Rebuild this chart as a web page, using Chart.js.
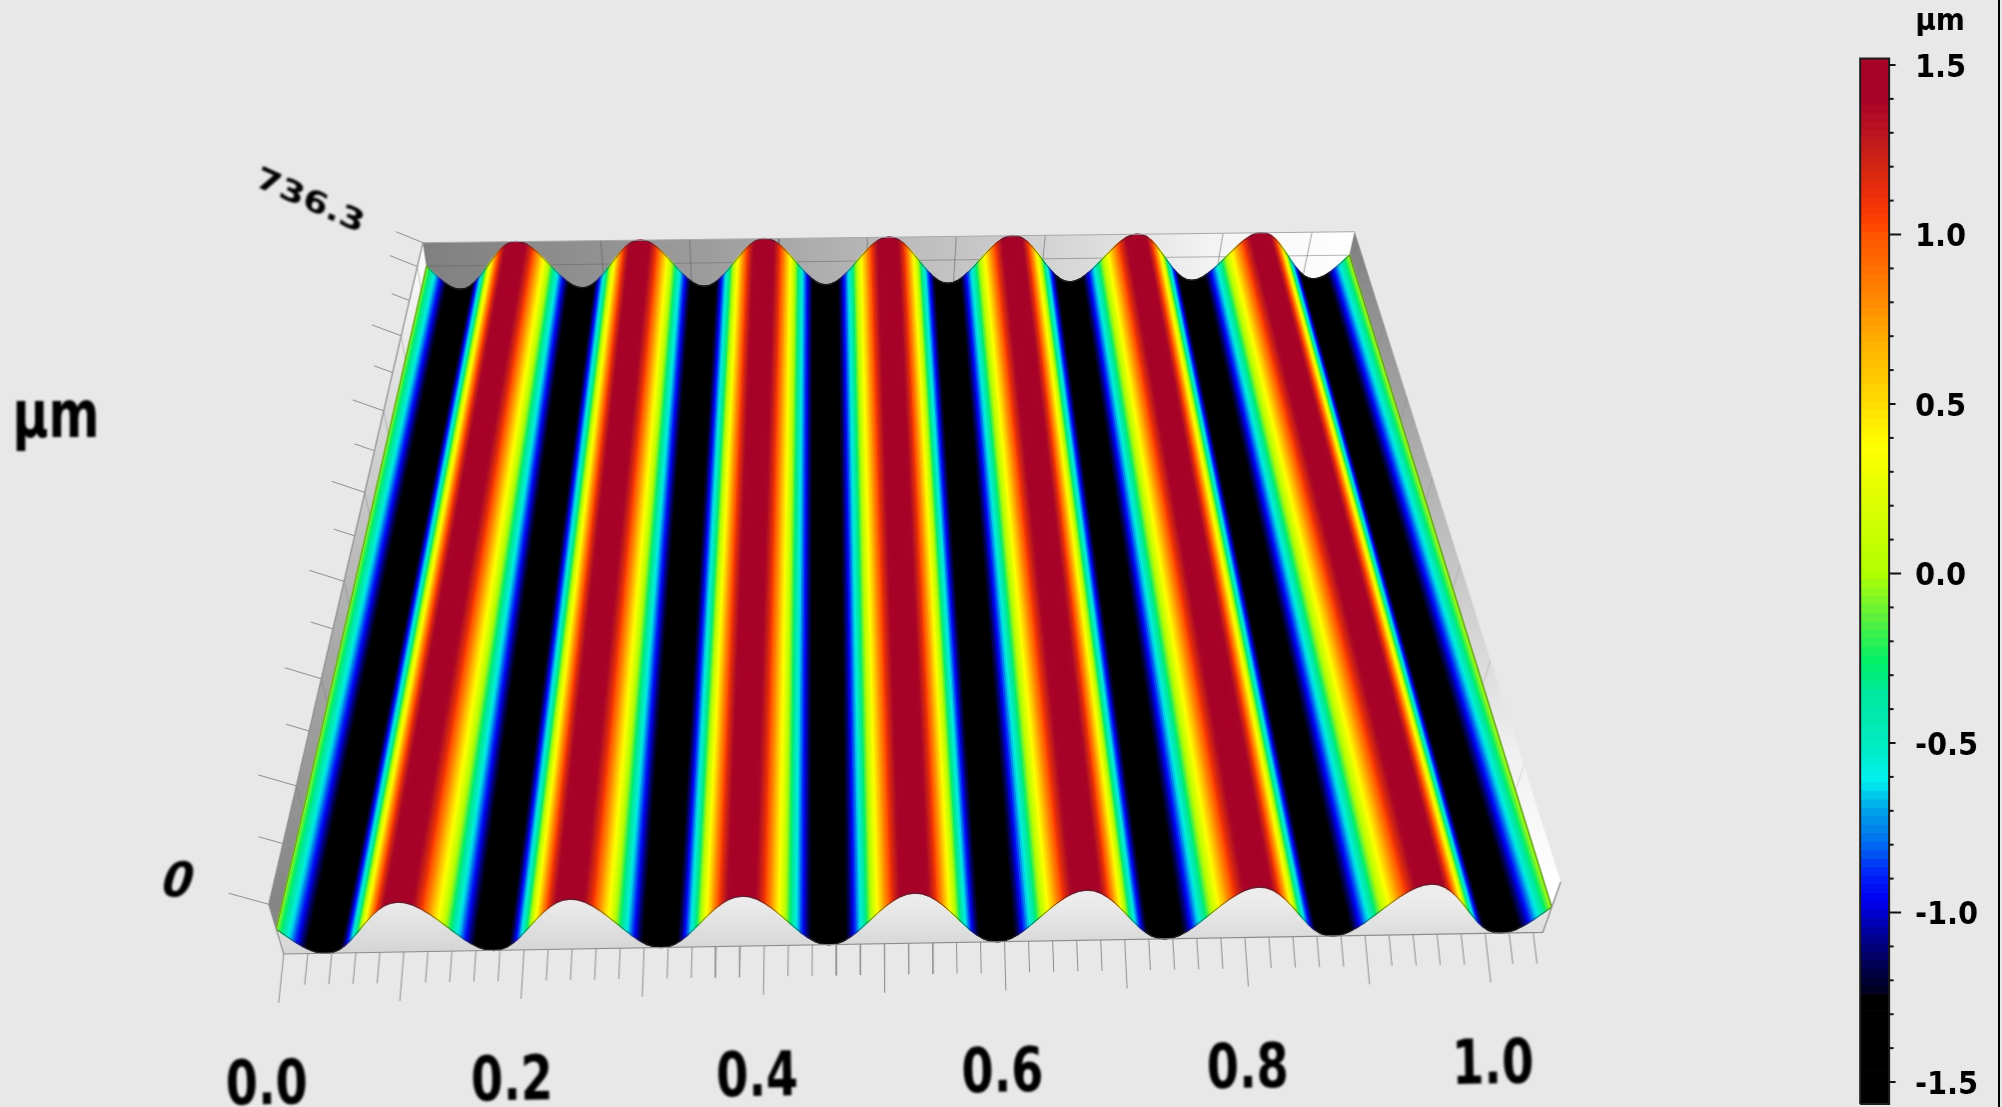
<!DOCTYPE html>
<html>
<head>
<meta charset="utf-8">
<title>Surface profile</title>
<script src="https://cdn.jsdelivr.net/npm/chart.js@4/dist/chart.umd.min.js"></script>
<style>
    html, body { margin: 0; padding: 0; background: #e8e8e8; overflow: hidden; }
    canvas { display: block; border-right: 2px solid #000; }
</style>
</head>
<body>
<canvas id="surface" width="2000" height="1107"></canvas>
<script>
// height of the surface along x (µm), one row per ridge
const profileHeights = [
    0.00, -0.41, -0.80, -1.13, -1.39, -1.55,
    -1.60, -1.55, -1.39, -1.13, -0.80, -0.41, 0.00, 0.41, 0.80, 1.13, 1.39, 1.55, 1.60, 1.55, 1.39, 1.13, 0.80, 0.41, 0.00, -0.41, -0.80, -1.13, -1.39, -1.55,
    -1.60, -1.55, -1.39, -1.13, -0.80, -0.41, 0.00, 0.41, 0.80, 1.13, 1.39, 1.55, 1.60, 1.55, 1.39, 1.13, 0.80, 0.41, 0.00, -0.41, -0.80, -1.13, -1.39, -1.55,
    -1.60, -1.55, -1.39, -1.13, -0.80, -0.41, 0.00, 0.41, 0.80, 1.13, 1.39, 1.55, 1.60, 1.55, 1.39, 1.13, 0.80, 0.41, 0.00, -0.41, -0.80, -1.13, -1.39, -1.55,
    -1.60, -1.55, -1.39, -1.13, -0.80, -0.41, 0.00, 0.41, 0.80, 1.13, 1.39, 1.55, 1.60, 1.55, 1.39, 1.13, 0.80, 0.41, 0.00, -0.41, -0.80, -1.13, -1.39, -1.55,
    -1.60, -1.55, -1.39, -1.13, -0.80, -0.41, 0.00, 0.41, 0.80, 1.13, 1.39, 1.55, 1.60, 1.55, 1.39, 1.13, 0.80, 0.41, 0.00, -0.41, -0.80, -1.13, -1.39, -1.55,
    -1.60, -1.55, -1.39, -1.13, -0.80, -0.41, 0.00, 0.41, 0.80, 1.13, 1.39, 1.55, 1.60, 1.55, 1.39, 1.13, 0.80, 0.41, 0.00, -0.41, -0.80, -1.13, -1.39, -1.55,
    -1.60, -1.55, -1.39, -1.13, -0.80, -0.41, 0.00, 0.41, 0.80, 1.13, 1.39, 1.55, 1.60, 1.55, 1.39, 1.13, 0.80, 0.41, 0.00, -0.41, -0.80, -1.13, -1.39, -1.55,
    -1.60, -1.55, -1.39, -1.13, -0.80, -0.41, 0.00
];
const sampleStep = 0.005822; // x distance between two profile samples

const xMajorTicks = [0.0, 0.1, 0.2, 0.3, 0.4, 0.5, 0.6, 0.7, 0.8, 0.9, 1.0];
const xMinorTicks = [0.02, 0.04, 0.06, 0.08, 0.12, 0.14, 0.16, 0.18, 0.22, 0.24, 0.26, 0.28, 0.32, 0.34, 0.36, 0.38, 0.42, 0.44, 0.46, 0.48, 0.52, 0.54, 0.56, 0.58, 0.62, 0.64, 0.66, 0.68, 0.72, 0.74, 0.76, 0.78, 0.82, 0.84, 0.86, 0.88, 0.92, 0.94, 0.96, 0.98, 1.02, 1.04];
const xTickLabels = ['0.0', '0.2', '0.4', '0.6', '0.8', '1.0'];
const xLabelValues = [0.0, 0.2, 0.4, 0.6, 0.8, 1.0];
const yMajorTicks = [0, 100, 200, 300, 400, 500, 600, 700, 736.3];
const yMinorTicks = [50, 150, 250, 350, 450, 550, 650];

// colour map of the bar on the right: height -> colour
const cmapValues = [-1.8, -1.245, -1.24, -1.18, -1.08, -1.0, -0.96, -0.89, -0.79, -0.69, -0.61, -0.5, -0.355, -0.26, -0.14, -0.06, 0.0, 0.3, 0.38, 0.5, 0.64, 0.7, 0.8, 0.9, 1.0, 1.04, 1.1, 1.2, 1.3, 1.397, 1.8];
const cmapColors = ['#000000', '#000000', '#000018', '#000040', '#00008a', '#0000d0', '#0000f0', '#0020f8', '#0070f0', '#00a8e8', '#00f0f0', '#00ecc0', '#00e8a0', '#00f068', '#55f040', '#88f820', '#b0ff00', '#f0ff00', '#ffff00', '#ffdd00', '#ffbb00', '#ffaa00', '#ff8c00', '#ff7000', '#ff5500', '#ff4000', '#f03208', '#d22612', '#bb1520', '#a80428', '#a50028'];
const cbLabelTicks = [-1.5, -1.0, -0.5, 0.0, 0.5, 1.0, 1.5];
const cbMajorTicks = [-1.0, 0.0, 1.0];
const cbMidTicks = [-1.5, -0.5, 0.5, 1.5];
const cbMinorTicks = [-1.4, -1.3, -1.2, -1.1, -0.9, -0.8, -0.7, -0.6, -0.4, -0.3, -0.2, -0.1, 0.1, 0.2, 0.3, 0.4, 0.6, 0.7, 0.8, 0.9, 1.1, 1.2, 1.3, 1.4];

const xMax = 1.048, yMax = 736.3, hMin = -1.6, hMax = 1.6;
const cbLow = -1.565, cbHigh = 1.519, cbBand = 0.025;

// where the box sits in the picture
const topPlane = { fl: [269, 904.3], fr: [1562.3, 881.7], bl: [423.3, 242.7], br: [1356, 231.7] };
const botPlane = { fl: [284, 954], fr: [1544.3, 932.3], bl: [430.5, 289.8], br: [1345.5, 278.6] };
const depthRatio = 1.387;

const FONT = '"DejaVu Sans Condensed", "DejaVu Sans", sans-serif';

function lerp(a, b, t) { return a + (b - a) * t; }

function planePoint(plane, u, v) {
    const t = v * depthRatio / ((1 - v) + v * depthRatio);
    const lx = lerp(plane.fl[0], plane.bl[0], t), ly = lerp(plane.fl[1], plane.bl[1], t);
    const rx = lerp(plane.fr[0], plane.br[0], t), ry = lerp(plane.fr[1], plane.br[1], t);
    return [lerp(lx, rx, u), lerp(ly, ry, u)];
}

function project(x, y, h) {
    const u = x / xMax, v = y / yMax, z = (h - hMin) / (hMax - hMin);
    const a = planePoint(botPlane, u, v), b = planePoint(topPlane, u, v);
    return { x: lerp(a[0], b[0], z), y: lerp(a[1], b[1], z) };
}

function hexToRgb(c) {
    return [parseInt(c.slice(1, 3), 16), parseInt(c.slice(3, 5), 16), parseInt(c.slice(5, 7), 16)];
}

function heightColor(h) {
    let i = 0;
    while (i < cmapValues.length - 2 && h > cmapValues[i + 1]) i++;
    const t = Math.min(1, Math.max(0, (h - cmapValues[i]) / (cmapValues[i + 1] - cmapValues[i])));
    const a = hexToRgb(cmapColors[i]), b = hexToRgb(cmapColors[i + 1]);
    return 'rgb(' + Math.round(lerp(a[0], b[0], t)) + ',' + Math.round(lerp(a[1], b[1], t)) + ',' + Math.round(lerp(a[2], b[2], t)) + ')';
}

const canvas = document.getElementById('surface');
const ctx = canvas.getContext('2d');

function gradient(x0, y0, x1, y1, stops) {
    const g = ctx.createLinearGradient(x0, y0, x1, y1);
    stops.forEach(s => g.addColorStop(s[0], s[1]));
    return g;
}

// paint order: first pushed is at the back
const layers = [];

function addPolygon(points, color, borderColor, borderWidth) {
    layers.push({
        data: points.concat([points[0]]),
        fill: 'shape',
        backgroundColor: color,
        borderColor: borderColor || 'rgba(0,0,0,0)',
        borderWidth: borderColor ? (borderWidth || 1) : 0,
        pointRadius: 0,
        tension: 0
    });
}

function addLine(points, color, width, axisId) {
    const ds = { data: points, fill: false, borderColor: color, borderWidth: width || 1, pointRadius: 0, tension: 0 };
    if (axisId) ds.yAxisID = axisId;
    layers.push(ds);
}

const lastX = (profileHeights.length - 1) * sampleStep;
const h0 = profileHeights[0], hEnd = profileHeights[profileHeights.length - 1];

// back wall and its grid
addPolygon([project(0, yMax, hMax), project(xMax, yMax, hMax), project(xMax, yMax, hMin), project(0, yMax, hMin)],
    gradient(423, 0, 1356, 0, [[0, '#808080'], [0.3, '#9c9c9c'], [0.65, '#cfcfcf'], [0.85, '#f4f4f4'], [1, '#ffffff']]));
xMajorTicks.forEach(x => addLine([project(x, yMax, hMax), project(x, yMax, hMin)], 'rgba(90,90,90,0.55)', 1));
addLine([project(0, yMax, 0), project(xMax, yMax, 0)], 'rgba(90,90,90,0.45)', 1);

// side walls
addPolygon([project(0, yMax, hMax), project(0, 0, hMax), project(0, 0, hMin), project(0, 0, h0), project(0, yMax, h0)],
    gradient(0, 243, 0, 930, [[0, '#ffffff'], [0.3, '#d2d2d2'], [0.58, '#aaaaaa'], [0.96, '#858585'], [1, '#8a8a8a']]));
addPolygon([project(xMax, yMax, hMax), project(xMax, 0, hMax), project(xMax, 0, hMin), project(lastX, 0, hEnd), project(lastX, yMax, hEnd)],
    gradient(0, 232, 0, 880, [[0, '#808080'], [0.4, '#b4b4b4'], [0.8, '#f0f0f0'], [1, '#ffffff']]));
yMajorTicks.forEach(y => {
    addLine([project(0, y, hMax), project(0, y, h0)], 'rgba(110,110,110,0.35)', 1);
    addLine([project(xMax, y, hMax), project(xMax, y, hEnd)], 'rgba(110,110,110,0.25)', 1);
});

// front wall under the profile
const frontProfile = profileHeights.map((h, i) => project(i * sampleStep, 0, h));
addPolygon(frontProfile.concat([project(xMax, 0, hMin), project(0, 0, hMin)]),
    gradient(0, 900, 0, 954, [[0, '#ececec'], [1, '#d4d4d4']]));

// the surface itself, thin strips coloured by height
const perSample = 4;
for (let i = 0; i < profileHeights.length - 1; i++) {
    for (let s = 0; s < perSample; s++) {
        const h1 = lerp(profileHeights[i], profileHeights[i + 1], s / perSample);
        const h2 = lerp(profileHeights[i], profileHeights[i + 1], (s + 1) / perSample);
        const x1 = (i + s / perSample) * sampleStep, x2 = (i + (s + 1) / perSample) * sampleStep;
        const c = heightColor((h1 + h2) / 2);
        addPolygon([project(x1, 0, h1), project(x2, 0, h2), project(x2, yMax, h2), project(x1, yMax, h1)], c, c, 1.5);
    }
}

// outlines of the profile and the box
const backProfile = profileHeights.map((h, i) => project(i * sampleStep, yMax, h));
addLine(frontProfile, 'rgba(50,50,50,0.75)', 1);
addLine(backProfile, 'rgba(50,50,50,0.75)', 1);
addLine([project(0, yMax, h0), project(0, 0, h0)], 'rgba(60,60,30,0.6)', 1);
addLine([project(lastX, yMax, hEnd), project(lastX, 0, hEnd)], 'rgba(60,60,30,0.7)', 1);
addLine([project(0, yMax, hMax), project(0, 0, hMax), project(0, 0, hMin), project(xMax, 0, hMin), project(xMax, 0, hMax)], '#8c8c8c', 1.2);
addLine([project(0, yMax, hMax), project(xMax, yMax, hMax)], '#a8a8a8', 1);

// x axis ticks below the front edge
function frontTick(x, len) {
    const p = project(x, 0, hMin);
    const u = x / xMax;
    return [p, { x: p.x + lerp(-5, 6, u) * len / 48, y: p.y + len }];
}
xMajorTicks.forEach(x => addLine(frontTick(x, 49), '#8e8e8e', 1));
xMinorTicks.forEach(x => addLine(frontTick(x, 31), '#8e8e8e', 1));

// y axis ticks left of the box
function sideTick(y, scale) {
    const p = project(0, y, hMax);
    const v = y / yMax;
    return [{ x: p.x + lerp(-40, -27, v) * scale, y: p.y - 11 * scale }, p];
}
yMajorTicks.forEach(y => addLine(sideTick(y, 1), '#8e8e8e', 1));
yMinorTicks.forEach(y => addLine(sideTick(y, 0.62), '#8e8e8e', 1));

// colour bar, on its own value axis
const barLeft = 1862, barRight = 1891;
for (let v = cbLow; v < cbHigh; v += cbBand) {
    const top = Math.min(v + cbBand, cbHigh);
    const c = heightColor((v + top) / 2);
    layers.push({
        data: [{ x: barLeft, y: v }, { x: barRight, y: v }, { x: barRight, y: top }, { x: barLeft, y: top }, { x: barLeft, y: v }],
        yAxisID: 'cb', fill: 'shape', backgroundColor: c, borderColor: c, borderWidth: 1, pointRadius: 0, tension: 0
    });
}
addLine([{ x: barLeft, y: cbLow }, { x: barRight, y: cbLow }, { x: barRight, y: cbHigh }, { x: barLeft, y: cbHigh }, { x: barLeft, y: cbLow }], '#1c1c1c', 2, 'cb');
cbMajorTicks.forEach(v => addLine([{ x: barRight, y: v }, { x: 1903, y: v }], '#111', 2, 'cb'));
cbMidTicks.forEach(v => addLine([{ x: barRight, y: v }, { x: 1897.5, y: v }], '#111', 2, 'cb'));
cbMinorTicks.forEach(v => addLine([{ x: barRight, y: v }, { x: 1895.5, y: v }], '#111', 2, 'cb'));

// the 3d axis text is stretched and soft in the original
function drawSoftText(c, text, cx, cy, size, opts) {
    c.save();
    c.translate(cx, cy);
    c.rotate(opts.angle || 0);
    c.transform(1, 0, opts.skew || 0, 1, 0, 0);
    c.scale(opts.sx || 1, opts.sy || 1);
    c.filter = 'blur(' + (opts.blur === undefined ? 0.9 : opts.blur) + 'px)';
    c.font = 'bold ' + size + 'px ' + FONT;
    c.fillStyle = '#000';
    c.textAlign = 'center';
    c.textBaseline = 'middle';
    c.fillText(text, 0, 0);
    c.restore();
}

const axisText = {
    id: 'axisText',
    afterDraw(chart) {
        const c = chart.ctx;
        xTickLabels.forEach((label, i) => {
            const x = xLabelValues[i];
            const p = project(x, 0, hMin);
            drawSoftText(c, label, p.x + lerp(-17, 9, x / xMax), p.y + 134, 62, { sx: 0.83, angle: -0.017 });
        });
        drawSoftText(c, 'µm', 56, 420, 68, { sx: 0.8, sy: 0.98 });
        drawSoftText(c, '736.3', 310, 202, 41, { angle: 0.42, sy: 0.72, skew: 0.1, blur: 0.8 });
        drawSoftText(c, '0', 177, 884, 49, { skew: -0.24, angle: 0.06, blur: 0.9 });
        drawSoftText(c, 'µm', 1942, 22, 31, { blur: 0 });
    }
};

// chart area covers the picture, so x and y run in picture units
new Chart(ctx, {
    type: 'line',
    data: { datasets: layers.reverse() },
    options: {
        responsive: false,
        animation: false,
        devicePixelRatio: 1,
        events: [],
        layout: { padding: 0 },
        plugins: { legend: { display: false }, tooltip: { enabled: false } },
        scales: {
            x: { type: 'linear', min: 0, max: 1903, display: false },
            y: { type: 'linear', min: 0, max: 1107, reverse: true, display: false },
            cb: {
                type: 'linear',
                position: 'right',
                min: -1.5737,
                max: 1.6917,
                grid: { display: false, drawTicks: false },
                border: { display: false },
                afterBuildTicks: s => { s.ticks = cbLabelTicks.map(v => ({ value: v })); },
                afterFit: s => { s.width = 97; s.paddingTop = 0; s.paddingBottom = 0; },
                ticks: {
                    autoSkip: false,
                    padding: 14,
                    labelOffset: 3.5,
                    color: '#000',
                    font: { family: FONT, weight: 'bold', size: 32 },
                    callback: v => v.toFixed(1)
                }
            }
        }
    },
    plugins: [axisText]
});
</script>
</body>
</html>
